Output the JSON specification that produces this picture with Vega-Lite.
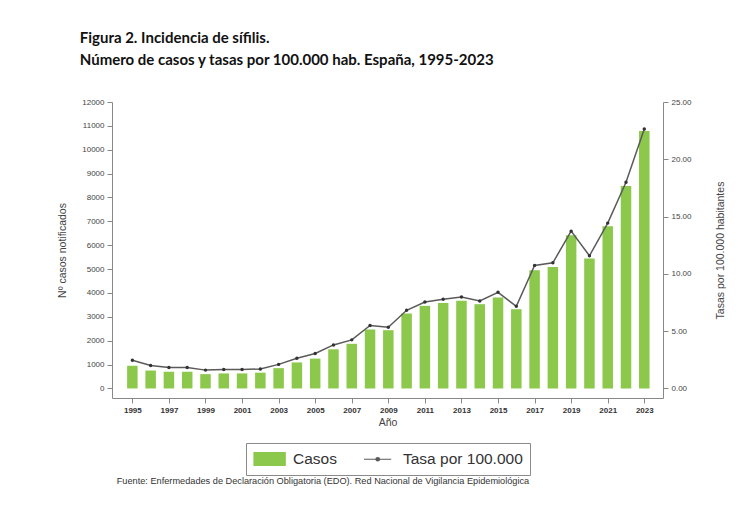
{
  "$schema": "https://vega.github.io/schema/vega-lite/v6.json",
  "background": "white",
  "padding": {"left": 57, "top": 31, "right": 5, "bottom": 5},
  "title": {
    "text": ["Figura 2. Incidencia de sífilis.", "Número de casos y tasas por 100.000 hab. España, 1995-2023"],
    "anchor": "start",
    "font": "Lato",
    "fontSize": 15,
    "fontWeight": "bold",
    "color": "#111111",
    "lineHeight": 22,
    "offset": 30,
    "dx": 22
  },
  "vconcat": [
    {
      "width": 551,
      "height": 296,
      "title": {
        "text": "Fuente: Enfermedades de Declaración Obligatoria (EDO). Red Nacional de Vigilancia Epidemiológica",
        "orient": "bottom",
        "anchor": "start",
        "font": "Liberation Sans",
        "fontSize": 9.2,
        "fontWeight": "normal",
        "color": "#333333",
        "offset": 49,
        "dx": 59
      },
      "data": {
        "values": [
          {"year": 1995, "casos": 950, "tasa": 2.46},
          {"year": 1996, "casos": 750, "tasa": 2.0},
          {"year": 1997, "casos": 700, "tasa": 1.83},
          {"year": 1998, "casos": 700, "tasa": 1.83},
          {"year": 1999, "casos": 600, "tasa": 1.6},
          {"year": 2000, "casos": 630, "tasa": 1.65},
          {"year": 2001, "casos": 630, "tasa": 1.65},
          {"year": 2002, "casos": 660, "tasa": 1.7},
          {"year": 2003, "casos": 850, "tasa": 2.1},
          {"year": 2004, "casos": 1090, "tasa": 2.64},
          {"year": 2005, "casos": 1250, "tasa": 3.05},
          {"year": 2006, "casos": 1640, "tasa": 3.8},
          {"year": 2007, "casos": 1870, "tasa": 4.24},
          {"year": 2008, "casos": 2470, "tasa": 5.5},
          {"year": 2009, "casos": 2440, "tasa": 5.34},
          {"year": 2010, "casos": 3140, "tasa": 6.82},
          {"year": 2011, "casos": 3460, "tasa": 7.55},
          {"year": 2012, "casos": 3580, "tasa": 7.78},
          {"year": 2013, "casos": 3670, "tasa": 7.98},
          {"year": 2014, "casos": 3530, "tasa": 7.63},
          {"year": 2015, "casos": 3810, "tasa": 8.39},
          {"year": 2016, "casos": 3320, "tasa": 7.17},
          {"year": 2017, "casos": 4950, "tasa": 10.74},
          {"year": 2018, "casos": 5090, "tasa": 10.97},
          {"year": 2019, "casos": 6415, "tasa": 13.73},
          {"year": 2020, "casos": 5440, "tasa": 11.58},
          {"year": 2021, "casos": 6790, "tasa": 14.43},
          {"year": 2022, "casos": 8480, "tasa": 18.0},
          {"year": 2023, "casos": 10780, "tasa": 22.65}
        ]
      },
      "encoding": {
        "x": {
          "field": "year",
          "type": "quantitative",
          "scale": {"domain": [1994.16, 2023.75], "nice": false, "zero": false},
          "axis": {
            "title": "Año",
            "values": [1995, 1997, 1999, 2001, 2003, 2005, 2007, 2009, 2011, 2013, 2015, 2017, 2019, 2021, 2023],
            "format": "d",
            "grid": false,
            "labelFontSize": 8,
            "labelColor": "#333333",
            "labelFontWeight": "bold",
            "titleFontSize": 10.5,
            "titleFontWeight": "normal",
            "titleColor": "#444444",
            "titlePadding": 3,
            "tickSize": 5,
            "labelPadding": 3,
            "domainColor": "#888888",
            "tickColor": "#888888"
          }
        }
      },
      "layer": [
        {
          "mark": {"type": "bar", "size": 10.5},
          "encoding": {
            "y": {
              "field": "casos",
              "type": "quantitative",
              "scale": {"domain": [-400, 12000], "nice": false, "zero": false},
              "axis": {
                "title": "Nº casos notificados",
                "orient": "left",
                "values": [0, 1000, 2000, 3000, 4000, 5000, 6000, 7000, 8000, 9000, 10000, 11000, 12000],
                "format": "d",
                "grid": false,
                "labelFontSize": 8,
                "labelColor": "#444444",
                "titleFontSize": 10.5,
                "titleFontWeight": "normal",
                "titleColor": "#444444",
                "titlePadding": 14,
                "tickSize": 5,
                "labelPadding": 3,
                "domainColor": "#888888",
                "tickColor": "#888888"
              }
            },
            "y2": {"datum": 0},
            "color": {
              "datum": "Casos",
              "type": "nominal",
              "scale": {"domain": ["Casos", "Tasa por 100.000"], "range": ["#8cc84b", "#5a5a5a"]},
              "legend": {
                "title": null,
                "orient": "none",
                "legendX": 134,
                "legendY": 341,
                "direction": "horizontal",
                "strokeColor": "#8a8a8a",
                "padding": 7,
                "labelFontSize": 15.5,
                "labelFont": "Liberation Sans",
                "labelColor": "#333333",
                "labelOffset": 22,
                "columnPadding": 24,
                "symbolSize": 256,
                "encode": {
                  "symbols": {
                    "update": {
                      "shape": {"signal": "datum.value === 'Casos' ? 'M-1,-0.8H2.9V0.8H-1Z' : 'M-1,0H2.4M0.5,0A0.22,0.22 0 1,0 0.94,0A0.22,0.22 0 1,0 0.5,0'"},
                      "fill": {"signal": "datum.value === 'Casos' ? '#8cc84b' : '#444444'"},
                      "stroke": {"signal": "datum.value === 'Casos' ? '#8cc84b' : '#666666'"},
                      "strokeWidth": {"value": 1.2},
                      "size": {"value": 256}
                    }
                  }
                }
              }
            }
          }
        },
        {
          "mark": {"type": "line", "strokeWidth": 1.5},
          "encoding": {
            "y": {
              "field": "tasa",
              "type": "quantitative",
              "scale": {"domain": [-0.8333, 25], "nice": false, "zero": false},
              "axis": {
                "title": "Tasas por 100.000 habitantes",
                "orient": "right",
                "values": [0, 5, 10, 15, 20, 25],
                "format": ".2f",
                "grid": false,
                "labelFontSize": 8,
                "labelColor": "#444444",
                "titleFontSize": 10.5,
                "titleFontWeight": "normal",
                "titleColor": "#444444",
                "titleAngle": -90,
                "titleBaseline": "bottom",
                "titlePadding": 34,
                "tickSize": 5,
                "labelPadding": 3,
                "domainColor": "#888888",
                "tickColor": "#888888"
              }
            },
            "color": {"datum": "Tasa por 100.000", "type": "nominal"}
          }
        },
        {
          "mark": {"type": "point", "filled": true, "size": 12, "color": "#333333", "opacity": 1},
          "encoding": {
            "y": {"field": "tasa", "type": "quantitative", "scale": {"domain": [-0.8333, 25], "nice": false, "zero": false}, "axis": null}
          }
        }
      ],
      "resolve": {"scale": {"y": "independent"}}
    }
  ],
  "config": {
    "font": "Liberation Sans",
    "view": {"stroke": null}
  }
}
